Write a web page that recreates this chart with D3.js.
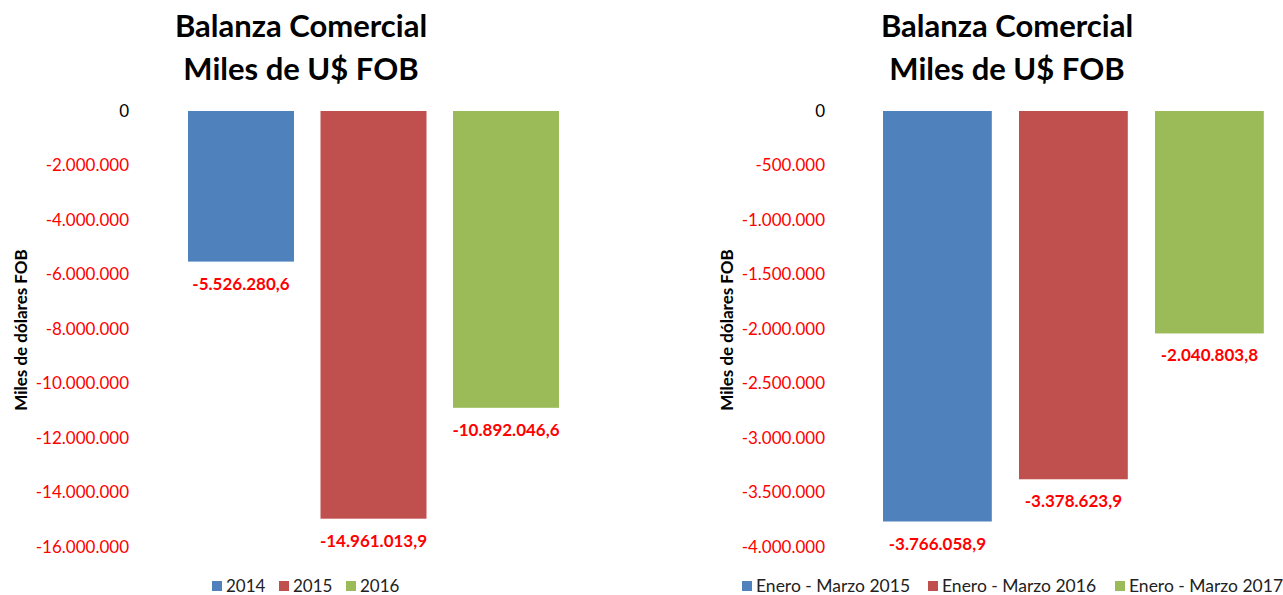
<!DOCTYPE html>
<html>
<head>
<meta charset="utf-8">
<script src="https://cdn.jsdelivr.net/npm/d3@7"></script>
<style>
  body { margin: 0; background: #fff; }
  svg text { font-family: Lato, "Open Sans", sans-serif; }
</style>
</head>
<body>
<div id="chart"></div>
<script>
// data
var years = ["2014", "2015", "2016"];
var yearValues = [-5526280.6, -14961013.9, -10892046.6];
var yearTicks = [0, -2000000, -4000000, -6000000, -8000000, -10000000, -12000000, -14000000, -16000000];

var quarters = ["Enero - Marzo 2015", "Enero - Marzo 2016", "Enero - Marzo 2017"];
var quarterValues = [-3766058.9, -3378623.9, -2040803.8];
var quarterTicks = [0, -500000, -1000000, -1500000, -2000000, -2500000, -3000000, -3500000, -4000000];

var colors = ["#4F81BD", "#C0504D", "#9BBB59"];

var svgWidth = 1283, svgHeight = 595;
var svg = d3.select("#chart").append("svg").attr("width", svgWidth).attr("height", svgHeight);

var es = d3.formatLocale({decimal: ",", thousands: ".", grouping: [3], currency: ["$", ""], minus: "-"});
var tickFmt = es.format(",.0f");
var labelFmt = es.format(",.1f");

function drawChart(cfg) {
    var g = svg.append("g");

    var xScale = d3.scaleBand().domain(cfg.cats).range(cfg.xRange).paddingInner(0.2).paddingOuter(0.1);
    var yScale = d3.scaleLinear().domain([0, cfg.ticks[cfg.ticks.length - 1]]).range([111, 547]);

    // title
    var title = g.append("text").attr("x", cfg.titleX).attr("text-anchor", "middle")
        .attr("font-weight", "bold").attr("font-size", "31px").attr("fill", "#000");
    title.append("tspan").attr("x", cfg.titleX).attr("y", 37).text("Balanza Comercial");
    title.append("tspan").attr("x", cfg.titleX).attr("y", 80).text("Miles de U$ FOB");

    // y axis labels (no lines)
    var leftAxis = d3.axisLeft(yScale).tickValues(cfg.ticks).tickFormat(tickFmt).tickSize(0).tickPadding(0);
    var yAxis = g.append("g").attr("transform", `translate(${cfg.tickX},0)`).call(leftAxis);
    yAxis.select(".domain").remove();
    yAxis.selectAll("text").attr("font-size", "17px").attr("font-family", "Lato, sans-serif")
        .attr("fill", d => d === 0 ? "#000" : "#FF0000");

    g.append("text").attr("transform", `translate(${cfg.axisTitleX},330) rotate(-90)`)
        .attr("text-anchor", "middle").attr("font-weight", "bold").attr("font-size", "17px")
        .text("Miles de dólares FOB");

    // bars
    g.selectAll("rect.bar").data(cfg.values).enter().append("rect").attr("class", "bar")
        .attr("x", (d, i) => xScale(cfg.cats[i]))
        .attr("width", xScale.bandwidth())
        .attr("y", yScale(0))
        .attr("height", d => yScale(d) - yScale(0))
        .attr("fill", (d, i) => colors[i]);

    g.selectAll("text.val").data(cfg.values).enter().append("text").attr("class", "val")
        .attr("x", (d, i) => xScale(cfg.cats[i]) + xScale.bandwidth() / 2)
        .attr("y", d => yScale(d) + 28)
        .attr("text-anchor", "middle").attr("font-weight", "bold").attr("font-size", "17px")
        .attr("fill", "#FF0000")
        .text(d => labelFmt(d));

    // legend
    var legend = g.selectAll("g.leg").data(cfg.cats).enter().append("g").attr("class", "leg")
        .attr("transform", (d, i) => `translate(${cfg.legendX[i]},581)`);
    legend.append("rect").attr("width", 10).attr("height", 10).attr("fill", (d, i) => colors[i]);
    legend.append("text").attr("x", cfg.legendGap).attr("y", 11).attr("font-size", cfg.legendSize)
        .attr("fill", "#222").text(d => d);
}

drawChart({
    cats: years, values: yearValues, ticks: yearTicks,
    xRange: [174.75, 572.25], titleX: 301, tickX: 129, axisTitleX: 27,
    legendX: [212, 279, 346], legendGap: 14, legendSize: "17px"
});

drawChart({
    cats: quarters, values: quarterValues, ticks: quarterTicks,
    xRange: [869.4, 1277.4], titleX: 1007, tickX: 825, axisTitleX: 733,
    legendX: [742, 928, 1115], legendGap: 14, legendSize: "17.5px"
});
</script>
</body>
</html>
